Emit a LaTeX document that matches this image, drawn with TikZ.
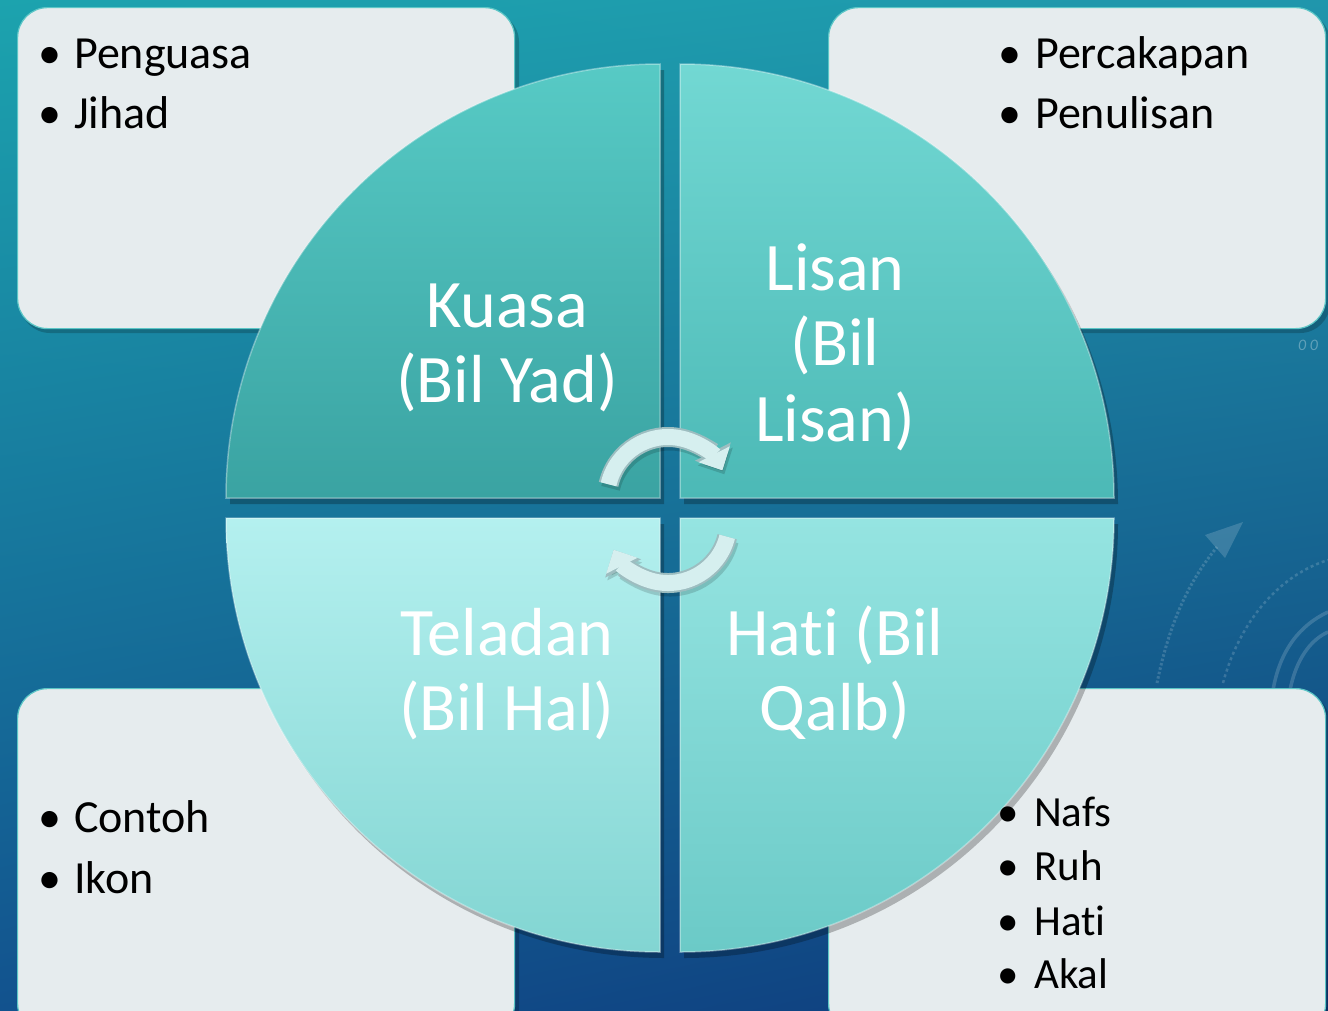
\documentclass[tikz,border=0pt]{standalone}
\usepackage{fontspec}
\setmainfont{Carlito}[Ligatures={NoCommon}]
\usetikzlibrary{arrows.meta,shadings}
\definecolor{bgTL}{HTML}{1CA3AE}
\definecolor{bgTR}{HTML}{2096AC}
\definecolor{bgBL}{HTML}{12528E}
\definecolor{bgBR}{HTML}{0E3A7A}
\definecolor{boxfill}{HTML}{E6ECEE}
\definecolor{boxedge}{HTML}{5CC6C6}
\definecolor{qaTop}{HTML}{57CAC5}
\definecolor{qaBot}{HTML}{3AA3A2}
\definecolor{qbTop}{HTML}{72D8D3}
\definecolor{qbBot}{HTML}{4CB9B6}
\definecolor{qcTop}{HTML}{B4F0EF}
\definecolor{qcBot}{HTML}{82D5D2}
\definecolor{qdTop}{HTML}{95E4E1}
\definecolor{qdBot}{HTML}{6BCAC7}
\definecolor{arrowC}{HTML}{D6EFEF}
\definecolor{arrowE}{HTML}{9DBDC0}
\tikzset{
  infobox/.style={draw=boxedge, line width=1.2pt, fill=boxfill, rounded corners=30pt, minimum width=497pt, inner sep=0pt, anchor=north west},
  boxshadow/.style={fill=black, opacity=0.2, rounded corners=30pt},
  qshadow/.style={fill=black, opacity=0.25},
  qrim/.style={draw=white, opacity=0.35, line width=1.5pt},
  qlabel/.style={text=white, font=\fontsize{68}{75}\selectfont, inner sep=0pt, anchor=base},
  bigitem/.style={text=black, font=\fontsize{46}{55}\selectfont, inner sep=0pt, anchor=base west},
  smallitem/.style={text=black, font=\fontsize{43}{54}\selectfont, inner sep=0pt, anchor=base west},
  bigbul/.style={text=black, font=\fontsize{46}{55}\selectfont, inner sep=0pt, anchor=base},
  smallbul/.style={text=black, font=\fontsize{43}{54}\selectfont, inner sep=0pt, anchor=base},
  cycshadow/.style={line width=19pt, draw=black, opacity=0.15, -{Triangle[length=20pt,width=38pt]}},
  cycedge/.style={line width=20pt, draw=arrowE, -{Triangle[length=21pt,width=39pt]}},
  cycarrow/.style={line width=16pt, draw=arrowC, -{Triangle[length=18pt,width=34pt]}},
  deco/.style={draw=white, opacity=0.16, line width=2.5pt}
}
\begin{document}
\begin{tikzpicture}[x=1pt,y=-1pt]
\useasboundingbox (0,0) rectangle (1328,1010);
% background
\shade[upper left=bgTL, upper right=bgTR, lower left=bgBL, lower right=bgBR] (0,0) rectangle (1328,1010);
% faint background decorations
\draw[deco, dotted, line width=3pt] (1157,683) .. controls (1170,620) and (1190,580) .. (1217,547);
\fill[white, opacity=0.16] (1205,535) -- (1243,522) -- (1225,558) -- cycle;
\draw[deco, dashed] (1223,683) .. controls (1240,620) and (1280,575) .. (1328,560);
\draw[deco, line width=3.5pt] (1273,690) .. controls (1280,650) and (1300,625) .. (1328,612);
\draw[deco, line width=3.5pt] (1290,690) .. controls (1296,660) and (1310,640) .. (1328,632);
\node[text=white, opacity=0.3, font=\itshape\fontsize{16}{16}\selectfont, inner sep=0pt] (zz) at (1308,345) {0 0};
% box shadows
\fill[boxshadow] (20,12) rectangle (519,333);
\fill[boxshadow] (831,12) rectangle (1330,333);
\fill[boxshadow] (20,693) rectangle (519,1040);
\fill[boxshadow] (831,693) rectangle (1330,1040);
% boxes
\node[infobox, minimum height=321pt] (boxA) at (17,7) {};
\node[infobox, minimum height=321pt] (boxB) at (828,7) {};
\node[infobox, minimum height=345pt] (boxC) at (17,688) {};
\node[infobox, minimum height=345pt] (boxD) at (828,688) {};
% quadrant shadows
\fill[qshadow] (664,504) -- (230,504) arc[start angle=180, end angle=270, radius=434] -- cycle;
\fill[qshadow] (684,504) -- (684,70) arc[start angle=270, end angle=360, radius=434] -- cycle;
\fill[qshadow] (664,524) -- (664,958) arc[start angle=90, end angle=180, radius=434] -- cycle;
\fill[qshadow] (684,524) -- (1118,524) arc[start angle=0, end angle=90, radius=434] -- cycle;
% quadrants
\shade[top color=qaTop, bottom color=qaBot] (660,498) -- (226,498) arc[start angle=180, end angle=270, radius=434] -- cycle;
\shade[top color=qbTop, bottom color=qbBot] (680,498) -- (680,64) arc[start angle=270, end angle=360, radius=434] -- cycle;
\shade[top color=qcTop, bottom color=qcBot] (660,518) -- (660,952) arc[start angle=90, end angle=180, radius=434] -- cycle;
\shade[top color=qdTop, bottom color=qdBot] (680,518) -- (1114,518) arc[start angle=0, end angle=90, radius=434] -- cycle;
\draw[qrim] (660,498) -- (226,498) arc[start angle=180, end angle=270, radius=434] -- cycle;
\draw[qrim] (680,498) -- (680,64) arc[start angle=270, end angle=360, radius=434] -- cycle;
\draw[qrim] (660,518) -- (660,952) arc[start angle=90, end angle=180, radius=434] -- cycle;
\draw[qrim] (680,518) -- (1114,518) arc[start angle=0, end angle=90, radius=434] -- cycle;
% quadrant labels
\node[qlabel] (ka) at (507,327) {Kuasa};
\node[qlabel] (kb) at (507,402) {(Bil Yad)};
\node[qlabel] (la) at (835,290) {Lisan};
\node[qlabel] (lb) at (835,365) {(Bil};
\node[qlabel] (lc) at (835,441) {Lisan)};
\node[qlabel] (ta) at (507,655) {Teladan};
\node[qlabel] (tb) at (507,730) {(Bil Hal)};
\node[qlabel] (ha) at (835,655) {Hati (Bil};
\node[qlabel] (hb) at (835,730) {Qalb)};
% cycle arrows
\coordinate (c1) at (668,498);
\coordinate (c2) at (668,522);
\coordinate (s1) at (670,502);
\coordinate (s2) at (670,526);
\draw[cycshadow] ([shift={(193:61)}]s1) arc[start angle=193, end angle=333, radius=61];
\draw[cycedge] ([shift={(193:61)}]c1) arc[start angle=193, end angle=333, radius=61];
\draw[cycarrow] ([shift={(193:61)}]c1) arc[start angle=193, end angle=333, radius=61];
\draw[cycshadow] ([shift={(14:61)}]s2) arc[start angle=14, end angle=153, radius=61];
\draw[cycedge] ([shift={(14:61)}]c2) arc[start angle=14, end angle=153, radius=61];
\draw[cycarrow] ([shift={(14:61)}]c2) arc[start angle=14, end angle=153, radius=61];
% lists
\node[bigbul] (b1) at (50,68) {•};
\node[bigitem] (t1) at (74,68) {Penguasa};
\node[bigbul] (b2) at (50,128) {•};
\node[bigitem] (t2) at (74,128) {Jihad};
\node[bigbul] (b3) at (1010,68) {•};
\node[bigitem] (t3) at (1035,68) {Percakapan};
\node[bigbul] (b4) at (1010,128) {•};
\node[bigitem] (t4) at (1035,128) {Penulisan};
\node[bigbul] (b5) at (50,832) {•};
\node[bigitem] (t5) at (74,832) {Contoh};
\node[bigbul] (b6) at (50,893) {•};
\node[bigitem] (t6) at (74,893) {Ikon};
\node[smallbul] (b7) at (1008,826) {•};
\node[smallitem] (t7) at (1034,826) {Nafs};
\node[smallbul] (b8) at (1008,880) {•};
\node[smallitem] (t8) at (1034,880) {Ruh};
\node[smallbul] (b9) at (1008,935) {•};
\node[smallitem] (t9) at (1034,935) {Hati};
\node[smallbul] (b10) at (1008,988) {•};
\node[smallitem] (t10) at (1034,988) {Akal};
\end{tikzpicture}
\end{document}
